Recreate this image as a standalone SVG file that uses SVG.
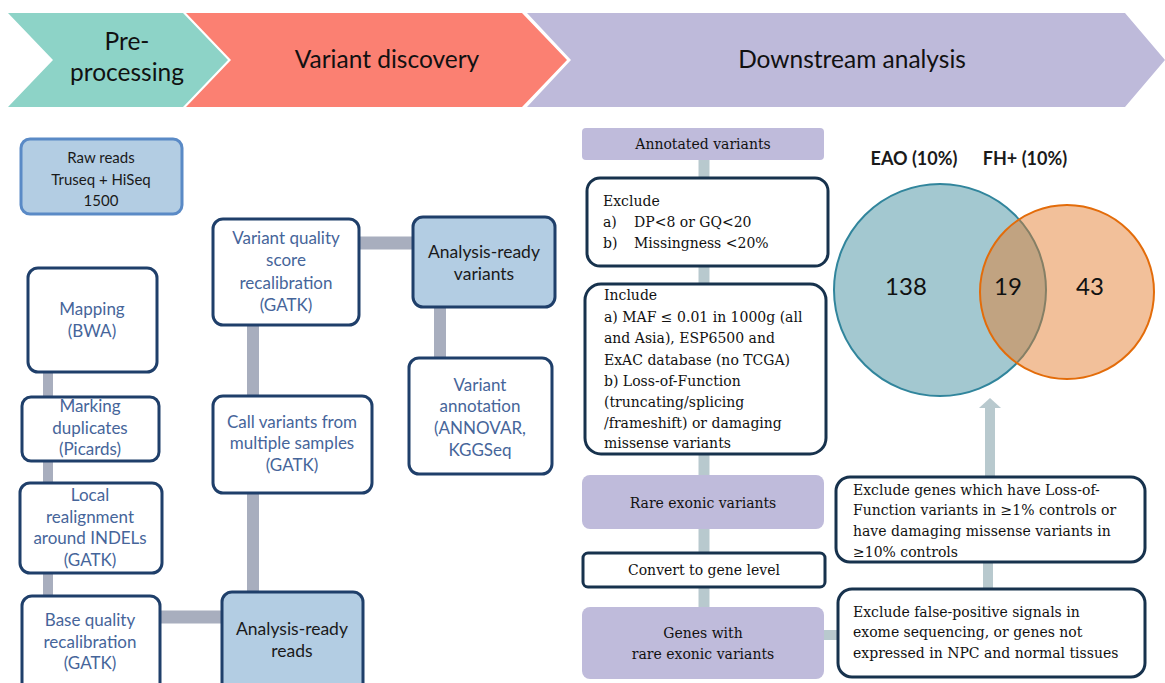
<svg xmlns="http://www.w3.org/2000/svg" width="1165" height="683" viewBox="0 0 1165 683">
<style>
.bn{font-family:Lato,"Liberation Sans",sans-serif;font-size:24.5px;fill:#111;text-anchor:middle}
.lt{font-family:Lato,"Liberation Sans",sans-serif;font-size:17px;fill:#46659A;text-anchor:middle}
.dk{font-family:Lato,"Liberation Sans",sans-serif;font-size:17.5px;fill:#1a1a1a;text-anchor:middle}
.sr{font-family:"DejaVu Serif","Liberation Serif",serif;font-size:14px;fill:#111}
.src{font-family:"DejaVu Serif","Liberation Serif",serif;font-size:14px;fill:#111;text-anchor:middle}
.wb{fill:#fff;stroke:#1F3F6A;stroke-width:3}
.bb{fill:#B3CDE3;stroke:#1F3F6A;stroke-width:3}
.rb{fill:#fff;stroke:#17324D;stroke-width:3}
.lav{fill:#BFBBDB}
.cg{stroke:#A8AEBE;fill:none}
.cr{stroke:#B8C9CE;fill:none}
.vl{font-family:Lato,"Liberation Sans",sans-serif;font-size:18px;font-weight:bold;fill:#1a1a1a;text-anchor:middle}
.vn{font-family:Lato,"Liberation Sans",sans-serif;font-size:24px;fill:#111;text-anchor:middle}
</style>
<g id="banner">
  <polygon points="8,13 183,13 228,60 183,107 8,107 53,60" fill="#8DD3C7"/>
  <polygon points="186,13 522,13 567,60 522,107 186,107 231,60" fill="#FB8072"/>
  <polygon points="527,13 1125,13 1165,60 1125,107 527,107 571,60" fill="#BEBADA"/>
  <text class="bn" x="127" y="50">Pre-</text>
  <text class="bn" x="127" y="81">processing</text>
  <text class="bn" x="387" y="68">Variant discovery</text>
  <text class="bn" x="852" y="68">Downstream analysis</text>
</g>
<g id="connectors">
  <line class="cg" x1="48" y1="372" x2="48" y2="397" stroke-width="10"/>
  <line class="cg" x1="48" y1="461" x2="48" y2="483" stroke-width="10"/>
  <line class="cg" x1="48" y1="573" x2="48" y2="597" stroke-width="10"/>
  <line class="cg" x1="160" y1="617" x2="222" y2="617" stroke-width="13"/>
  <line class="cg" x1="253" y1="493" x2="253" y2="592" stroke-width="12"/>
  <line class="cg" x1="253" y1="325" x2="253" y2="396" stroke-width="12"/>
  <line class="cg" x1="359" y1="243" x2="413" y2="243" stroke-width="13"/>
  <line class="cg" x1="440" y1="307" x2="440" y2="358" stroke-width="12"/>
  <line class="cr" x1="704" y1="160" x2="704" y2="178" stroke-width="11"/>
  <line class="cr" x1="704" y1="266" x2="704" y2="284" stroke-width="11"/>
  <line class="cr" x1="704" y1="453" x2="704" y2="475" stroke-width="11"/>
  <line class="cr" x1="704" y1="529" x2="704" y2="553" stroke-width="11"/>
  <line class="cr" x1="704" y1="587" x2="704" y2="607" stroke-width="11"/>
  <line class="cr" x1="823" y1="635" x2="838" y2="635" stroke-width="10"/>
  <line class="cr" x1="988" y1="562" x2="988" y2="589" stroke-width="10"/>
  <line class="cr" x1="990" y1="477" x2="990" y2="405" stroke-width="10"/>
  <polygon points="979,408 1001,408 990,398" fill="#B8C9CE"/>
</g>
<g id="raw-reads">
  <rect x="21" y="139" width="161" height="75" rx="9" fill="#B3CDE3" stroke="#5A8AC6" stroke-width="3"/>
  <text class="dk" x="101" y="163" style="font-size:15px">Raw reads</text>
  <text class="dk" x="101" y="185" style="font-size:15px">Truseq + HiSeq</text>
  <text class="dk" x="101" y="206" style="font-size:15px">1500</text>
</g>
<g id="mapping">
  <rect class="wb" x="28" y="268" width="129" height="104" rx="10"/>
  <text class="lt" x="92" y="315">Mapping</text>
  <text class="lt" x="92" y="337">(BWA)</text>
</g>
<g id="marking">
  <rect class="wb" x="22" y="397" width="137" height="64" rx="9"/>
  <text class="lt" x="90" y="412">Marking</text>
  <text class="lt" x="90" y="434">duplicates</text>
  <text class="lt" x="90" y="455">(Picards)</text>
</g>
<g id="local">
  <rect class="wb" x="20" y="483" width="142" height="90" rx="10"/>
  <text class="lt" x="90" y="501">Local</text>
  <text class="lt" x="90" y="523">realignment</text>
  <text class="lt" x="90" y="544">around INDELs</text>
  <text class="lt" x="90" y="566">(GATK)</text>
</g>
<g id="base">
  <rect class="wb" x="22" y="596" width="138" height="100" rx="10"/>
  <text class="lt" x="90" y="626">Base quality</text>
  <text class="lt" x="90" y="648">recalibration</text>
  <text class="lt" x="90" y="669">(GATK)</text>
</g>
<g id="reads">
  <rect class="bb" x="222" y="592" width="141" height="104" rx="10"/>
  <text class="dk" x="292" y="635">Analysis-ready</text>
  <text class="dk" x="292" y="657">reads</text>
</g>
<g id="call">
  <rect class="wb" x="213" y="396" width="159" height="97" rx="10"/>
  <text class="lt" x="292" y="428">Call variants from</text>
  <text class="lt" x="292" y="449">multiple samples</text>
  <text class="lt" x="292" y="471">(GATK)</text>
</g>
<g id="vqsr">
  <rect class="wb" x="213" y="219" width="146" height="106" rx="10"/>
  <text class="lt" x="286" y="244">Variant quality</text>
  <text class="lt" x="286" y="266">score</text>
  <text class="lt" x="286" y="289">recalibration</text>
  <text class="lt" x="286" y="311">(GATK)</text>
</g>
<g id="variants">
  <rect class="bb" x="413" y="217" width="142" height="90" rx="10"/>
  <text class="dk" x="484" y="258">Analysis-ready</text>
  <text class="dk" x="484" y="280">variants</text>
</g>
<g id="annotation">
  <rect class="wb" x="409" y="358" width="143" height="116" rx="10"/>
  <text class="lt" x="480" y="391">Variant</text>
  <text class="lt" x="480" y="412">annotation</text>
  <text class="lt" x="480" y="434">(ANNOVAR,</text>
  <text class="lt" x="480" y="456">KGGSeq</text>
</g>
<g id="annotated">
  <rect class="lav" x="582" y="128" width="242" height="32" rx="4"/>
  <text class="src" x="703" y="149">Annotated variants</text>
</g>
<g id="exclude1">
  <rect class="rb" x="587" y="178" width="241" height="88" rx="13"/>
  <text class="sr" x="603" y="206">Exclude</text>
  <text class="sr" x="603" y="227">a)</text>
  <text class="sr" x="634" y="227">DP&lt;8 or GQ&lt;20</text>
  <text class="sr" x="603" y="248">b)</text>
  <text class="sr" x="634" y="248">Missingness &lt;20%</text>
</g>
<g id="include">
  <rect class="rb" x="585" y="284" width="241" height="170" rx="16"/>
  <text class="sr" x="604" y="300">Include</text>
  <text class="sr" x="604" y="322">a) MAF ≤ 0.01 in 1000g (all</text>
  <text class="sr" x="604" y="343">and Asia), ESP6500 and</text>
  <text class="sr" x="604" y="365">ExAC database (no TCGA)</text>
  <text class="sr" x="604" y="386">b) Loss-of-Function</text>
  <text class="sr" x="604" y="407">(truncating/splicing</text>
  <text class="sr" x="604" y="428">/frameshift) or damaging</text>
  <text class="sr" x="604" y="448">missense variants</text>
</g>
<g id="rare">
  <rect class="lav" x="582" y="475" width="242" height="54" rx="8"/>
  <text class="src" x="703" y="508">Rare exonic variants</text>
</g>
<g id="convert">
  <rect class="rb" x="583" y="553" width="242" height="34" rx="5"/>
  <text class="src" x="704" y="575">Convert to gene level</text>
</g>
<g id="genes">
  <rect class="lav" x="582" y="607" width="242" height="72" rx="8"/>
  <text class="src" x="703" y="638">Genes with</text>
  <text class="src" x="703" y="659">rare exonic variants</text>
</g>
<g id="exclude-fp">
  <rect class="rb" x="838" y="589" width="307" height="88" rx="14"/>
  <text class="sr" x="853" y="617">Exclude false-positive signals in</text>
  <text class="sr" x="853" y="637">exome sequencing, or genes not</text>
  <text class="sr" x="853" y="658">expressed in NPC and normal tissues</text>
</g>
<g id="exclude-genes">
  <rect class="rb" x="836" y="477" width="309" height="85" rx="14"/>
  <text class="sr" x="853" y="495">Exclude genes which have Loss-of-</text>
  <text class="sr" x="853" y="515">Function variants in ≥1% controls or</text>
  <text class="sr" x="853" y="536">have damaging missense variants in</text>
  <text class="sr" x="853" y="557">≥10% controls</text>
</g>
<g id="venn">
  <circle cx="940" cy="290" r="106" fill="#A3C8D0" stroke="#31859C" stroke-width="2"/>
  <circle cx="1067" cy="292" r="87" fill="#E47928" fill-opacity="0.47" stroke="#E36C0A" stroke-width="2"/>
  <text class="vl" x="914" y="165">EAO (10%)</text>
  <text class="vl" x="1025" y="165">FH+ (10%)</text>
  <text class="vn" x="906" y="295">138</text>
  <text class="vn" x="1008" y="295">19</text>
  <text class="vn" x="1090" y="295">43</text>
</g>
</svg>
